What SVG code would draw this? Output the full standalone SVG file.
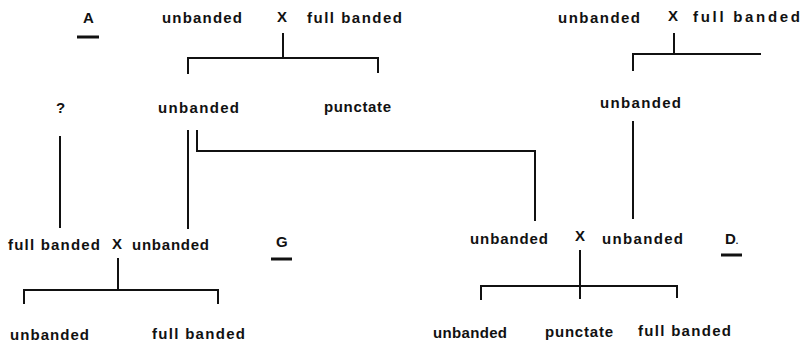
<svg xmlns="http://www.w3.org/2000/svg" width="804" height="345" viewBox="0 0 804 345">
  <style>
    text { font-family: "Liberation Sans", Arial, sans-serif; font-weight: bold; font-size: 15px; fill: #111; }
    .ln { fill: none; stroke: #111; stroke-width: 2; stroke-linecap: square; }
    .ul { fill: none; stroke: #111; stroke-width: 3; }
  </style>
  <rect width="804" height="345" fill="#fff"/>

  <!-- Connectors -->
  <g id="connectors">
    <path class="ln" d="M283 34 V58 M188 73 V58 H378 V72"/>
    <path class="ln" d="M674 34 V54 M633 70 V54 H760"/>
    <path class="ln" d="M633 122 V218"/>
    <path class="ln" d="M60 137 V227"/>
    <path class="ln" d="M188 131 V228"/>
    <path class="ln" d="M197 131 V151 H535 V220"/>
    <path class="ln" d="M118 259 V290 M24 303 V290 H218 V303"/>
    <path class="ln" d="M580 251 V298 M481 299 V286 H677 V297"/>
  </g>

  <!-- Pedigree A -->
  <g id="label-A"><text x="83" y="23">A</text><path class="ul" d="M77 37 H99"/></g>
  <g id="a-p1"><text x="162" y="23" textLength="80" lengthAdjust="spacing">unbanded</text></g>
  <g id="a-x"><text x="277" y="22">X</text></g>
  <g id="a-p2"><text x="307" y="23" textLength="95" lengthAdjust="spacing">full banded</text></g>
  <g id="a-q"><text x="56" y="113">?</text></g>
  <g id="a-f1"><text x="158" y="113" textLength="81" lengthAdjust="spacing">unbanded</text></g>
  <g id="a-f2"><text x="324" y="112" textLength="67" lengthAdjust="spacing">punctate</text></g>

  <!-- Pedigree D, parents -->
  <g id="d-p1"><text x="558" y="23" textLength="82" lengthAdjust="spacing">unbanded</text></g>
  <g id="d-x"><text x="668" y="21">X</text></g>
  <g id="d-p2"><text x="693" y="22" textLength="107" lengthAdjust="spacing">full banded</text></g>
  <g id="d-f1"><text x="600" y="108" textLength="81" lengthAdjust="spacing">unbanded</text></g>

  <!-- Pedigree G -->
  <g id="g-p1"><text x="8" y="250" textLength="92" lengthAdjust="spacing">full banded</text></g>
  <g id="g-x"><text x="112" y="249">X</text></g>
  <g id="g-p2"><text x="132" y="250" textLength="77" lengthAdjust="spacing">unbanded</text></g>
  <g id="label-G"><text x="276" y="247">G</text><path class="ul" d="M271 259 H292"/></g>
  <g id="g-o1"><text x="10" y="340" textLength="79" lengthAdjust="spacing">unbanded</text></g>
  <g id="g-o2"><text x="152" y="339" textLength="93" lengthAdjust="spacing">full banded</text></g>

  <!-- Pedigree D, cross -->
  <g id="d-c1"><text x="470" y="244" textLength="78" lengthAdjust="spacing">unbanded</text></g>
  <g id="d-cx"><text x="575" y="241">X</text></g>
  <g id="d-c2"><text x="602" y="244" textLength="81" lengthAdjust="spacing">unbanded</text></g>
  <g id="label-D"><text x="725" y="244">D<tspan font-size="9">.</tspan></text><path class="ul" d="M721 255 H742"/></g>
  <g id="d-o1"><text x="433" y="338" textLength="74" lengthAdjust="spacing">unbanded</text></g>
  <g id="d-o2"><text x="545" y="337" textLength="68" lengthAdjust="spacing">punctate</text></g>
  <g id="d-o3"><text x="638" y="336" textLength="93" lengthAdjust="spacing">full banded</text></g>
</svg>
